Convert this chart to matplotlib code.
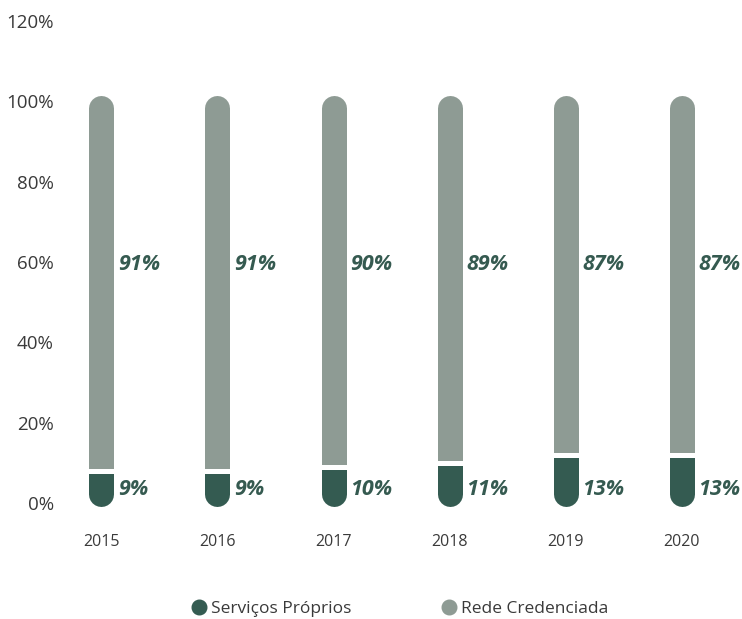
import matplotlib
matplotlib.use("Agg")
import matplotlib.pyplot as plt
from matplotlib.patches import Rectangle
from matplotlib.lines import Line2D

years = ["2015", "2016", "2017", "2018", "2019", "2020"]
proprios = [9, 9, 10, 11, 13, 13]
credenciada = [91, 91, 90, 89, 87, 87]
series_names = ["Serviços Próprios", "Rede Credenciada"]

dark = "#345b51"
gray = "#8e9b94"
label_col = "#355a50"
text_col = "#3a3a3a"

plt.rcParams["font.family"] = ["Open Sans", "DejaVu Sans"]

fig = plt.figure(figsize=(7.42, 6.19), dpi=100)
H = 619.0
ax = fig.add_axes([62 / 742, (619 - 527) / H, 680 / 742, (527 - 21) / H])
ax.set_xlim(-0.34, 5.52)
ax.set_ylim(-6, 120)

lw = 18  # 25 px
cap = 3.1  # half width of bar in % units

for i, (p, c) in enumerate(zip(proprios, credenciada)):
    top = p + c
    # grey capsule, clipped above the dark part
    g, = ax.plot([i, i], [-1 + cap, top + 1.4 - cap], color=gray, lw=lw,
                 solid_capstyle="round", zorder=2)
    g.set_clip_path(Rectangle((i - 0.5, p - 0.6), 1, 200, transform=ax.transData))
    # dark capsule, clipped below the gap
    d, = ax.plot([i, i], [-1 + cap, top + 1.4 - cap], color=dark, lw=lw,
                 solid_capstyle="round", zorder=3)
    d.set_clip_path(Rectangle((i - 0.5, -20), 1, p - 1.8 + 20, transform=ax.transData))

    ax.text(i + 0.145, 3.3, f"{p}%", color=label_col, fontsize=15.5,
            fontweight="bold", fontstyle="italic", va="center", ha="left")
    ax.text(i + 0.145, 59.3, f"{c}%", color=label_col, fontsize=15.5,
            fontweight="bold", fontstyle="italic", va="center", ha="left")

ax.set_yticks(range(0, 121, 20))
ax.set_yticklabels([f"{v}%" for v in range(0, 121, 20)], fontsize=13.5, color=text_col)
ax.set_xticks(range(len(years)))
ax.set_xticklabels(years, fontsize=11.5, color=text_col)
ax.tick_params(axis="both", length=0)
ax.tick_params(axis="x", pad=5)
ax.tick_params(axis="y", pad=6)
for s in ax.spines.values():
    s.set_visible(False)

handles = [Line2D([], [], ls="none", marker="o", markersize=10.5, color=dark),
           Line2D([], [], ls="none", marker="o", markersize=10.5, color=gray)]
leg = fig.legend(handles, series_names, loc="center", bbox_to_anchor=(399 / 742, 1 - 609 / H),
                 ncol=2, frameon=False, fontsize=12.5, handletextpad=0.2,
                 columnspacing=5.1, handlelength=1.0)
for t in leg.get_texts():
    t.set_color(text_col)

fig.savefig("out.png", dpi=100)
